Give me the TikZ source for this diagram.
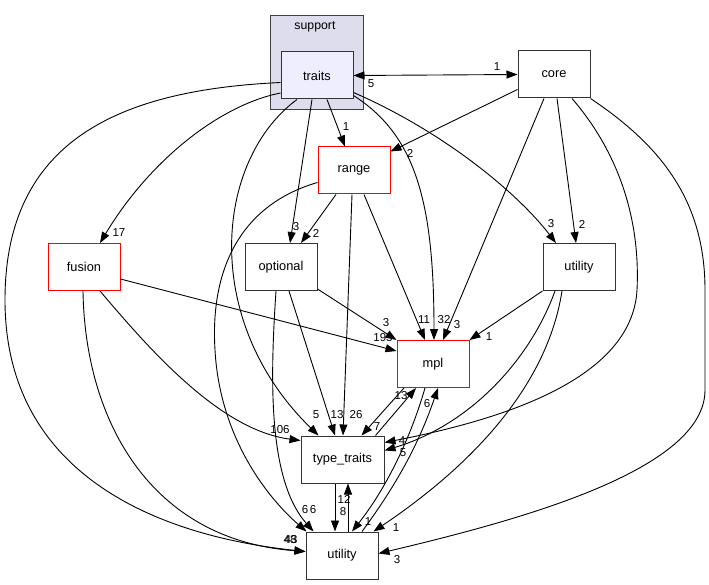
\documentclass[tikz,border=0pt]{standalone}
\usepackage{fontspec}
\setmainfont{Liberation Sans}
\usetikzlibrary{arrows.meta,calc}
\definecolor{clusterfill}{RGB}{221,221,238}
\definecolor{traitsfill}{RGB}{238,238,255}
\definecolor{edgered}{RGB}{255,0,0}
\begin{document}
\begin{tikzpicture}[x=1pt,y=-1pt,line width=0.9pt,
  box/.style={draw=black!80,fill=white,minimum width=72pt,minimum height=47pt,inner sep=0pt,line width=1pt,font=\fontsize{12.8}{14}\selectfont},
  redbox/.style={box,draw=edgered},
  dep/.style={-{Triangle[length=11pt,width=8pt]}},
  bidep/.style={{Triangle[length=11pt,width=8pt]}-{Triangle[length=11pt,width=8pt]}},
  lbl/.style={font=\fontsize{11.5}{13}\selectfont,inner sep=0pt}]
\useasboundingbox (0,0) rectangle (709,585);
% cluster
\node[draw=black!75,fill=clusterfill,minimum width=93pt,minimum height=94pt,inner sep=0pt,line width=1pt] (cluster) at (316.5,63) {};
\node[font=\fontsize{12.3}{14}\selectfont] (supportlbl) at (315,27) {support};
% nodes
\node[box,fill=traitsfill] (traits) at (317,75.5) {traits};
\node[box] (core) at (554,74.5) {core};
\node[redbox] (range) at (354,170.5) {range};
\node[redbox] (fusion) at (84,267) {fusion};
\node[box] (optional) at (281,267) {optional};
\node[box] (util2) at (579,267) {utility};
\node[redbox] (mpl) at (433,364) {mpl};
\node[box,minimum width=83pt] (tt) at (342.5,459.5) {type\_traits};
\node[box] (utility) at (342,555.5) {utility};
% labels
\node[lbl] (l1) at (497,67) {1};
\node[lbl] (l2) at (371,84) {5};
\node[lbl] (l3) at (346,127) {1};
\node[lbl] (l4) at (119,233) {17};
\node[lbl] (l5) at (296,227) {3};
\node[lbl] (l6) at (316,233) {2};
\node[lbl] (l7) at (410,153) {2};
\node[lbl] (l8) at (551,224) {3};
\node[lbl] (l9) at (582,224) {2};
\node[lbl] (l10) at (424,320) {11};
\node[lbl] (l11) at (444,320) {32};
\node[lbl] (l12) at (457,325) {3};
\node[lbl] (l13) at (386,323) {3};
\node[lbl] (l14) at (383,338) {193};
\node[lbl] (l15) at (489,337) {1};
\node[lbl] (l16) at (401,396) {13};
\node[lbl] (l17) at (427,404) {6};
\node[lbl] (l18) at (377,427) {7};
\node[lbl] (l19) at (316,415) {5};
\node[lbl] (l20) at (337,415) {13};
\node[lbl] (l21) at (356,415) {26};
\node[lbl] (l22) at (280,430) {106};
\node[lbl] (l23) at (402,441) {4};
\node[lbl] (l24) at (403,453) {5};
\node[lbl] (l25) at (344,499) {12};
\node[lbl] (l26) at (343,512) {8};
\node[lbl] (l27) at (305,510) {6};
\node[lbl] (l28) at (313,510) {6};
\node[lbl] (l29) at (368,522) {1};
\node[lbl] (l30) at (396,528) {1};
\node[lbl] (l31) at (290,540) {48};
\node[lbl] (l32) at (291,540) {43};
\node[lbl] (l33) at (397,560) {3};
% edges
\draw[bidep] (traits.east) -- (core.west);
\draw[dep] ($(traits.south)+(10,0)$) -- ($(range.north)+(-9,0)$);
\draw[dep] ($(traits.west)+(0,17.5)$) .. controls (220,105) and (150,160) .. ($(fusion.north)+(16,0)$);
\draw[dep] ($(traits.south)+(-5,0)$) -- ($(optional.north)+(9,0)$);
\draw[dep] ($(traits.south)+(-20,0)$) .. controls (215,160) and (200,320) .. ($(tt.north)+(-24,0)$);
\draw[dep] ($(traits.east)+(0,20)$) .. controls (415,135) and (434,200) .. ($(mpl.north)+(1,0)$);
\draw[dep] ($(traits.east)+(0,17)$) .. controls (440,130) and (515,190) .. ($(util2.north)+(-23,0)$);
\draw[dep] ($(traits.west)+(0,7)$) .. controls (120,90) and (5,140) .. (5,300) .. controls (5,470) and (150,535) .. ($(utility.west)+(0,-4)$);
\draw[dep] ($(core.west)+(0,15)$) -- ($(range.north east)+(0,5)$);
\draw[dep] ($(core.south)+(-10,0)$) -- ($(mpl.north)+(10,0)$);
\draw[dep] ($(core.south)+(3,0)$) -- ($(util2.north)+(-3,0)$);
\draw[dep] ($(core.south)+(18,0)$) .. controls (625,160) and (640,230) .. (637,290) .. controls (632,380) and (500,420) .. ($(tt.east)+(0,-17)$);
\draw[dep] (core.south east) .. controls (660,145) and (705,200) .. (705,290) -- (705,390) .. controls (705,470) and (520,520) .. ($(utility.east)+(0,-2)$);
\draw[dep] ($(range.south)+(-18,0)$) -- ($(optional.north)+(20,0)$);
\draw[dep] ($(range.south)+(10,0)$) -- ($(mpl.north)+(-8,0)$);
\draw[dep] ($(range.south)+(-2,0)$) -- ($(tt.north)+(0.5,0)$);
\draw[dep] ($(range.west)+(0,12)$) .. controls (240,205) and (210,270) .. (215,350) .. controls (220,440) and (270,500) .. ($(utility.north west)+(1,0)$);
\draw[dep] ($(fusion.east)+(0,12)$) -- ($(mpl.west)+(0,-13)$);
\draw[dep] ($(fusion.south)+(16,0)$) .. controls (150,350) and (220,430) .. ($(tt.north west)+(0,5)$);
\draw[dep] ($(fusion.south)+(-1,0)$) .. controls (85,420) and (150,540) .. ($(utility.west)+(0,-4)$);
\draw[dep] ($(optional.east)+(0,22)$) -- (mpl.north west);
\draw[dep] ($(optional.south)+(8,0)$) -- ($(tt.north)+(-7.5,0)$);
\draw[dep] ($(optional.south)+(-5,0)$) .. controls (270,380) and (268,480) .. ($(utility.north west)+(8,0)$);
\draw[dep] (util2.south west) -- (mpl.north east);
\draw[dep] ($(util2.south)+(-24,0)$) .. controls (530,360) and (470,425) .. ($(tt.east)+(0,-9)$);
\draw[dep] ($(util2.south)+(-17,0)$) .. controls (545,400) and (450,480) .. ($(utility.north east)+(-5,0)$);
\draw[dep] ($(mpl.south)+(-29,0)$) -- ($(tt.north)+(19,0)$);
\draw[dep] ($(tt.north)+(33,0)$) -- ($(mpl.south)+(-17,0)$);
\draw[dep] ($(mpl.south)+(-8,0)$) .. controls (410,440) and (385,490) .. ($(utility.north)+(10,0)$);
\draw[dep] ($(utility.north)+(20,0)$) .. controls (400,480) and (420,440) .. ($(mpl.south)+(5,0)$);
\draw[dep] ($(tt.south)+(-7.5,0)$) -- ($(utility.north)+(-7,0)$);
\draw[dep] ($(utility.north)+(6,0)$) -- ($(tt.south)+(5.5,0)$);
\end{tikzpicture}
\end{document}
